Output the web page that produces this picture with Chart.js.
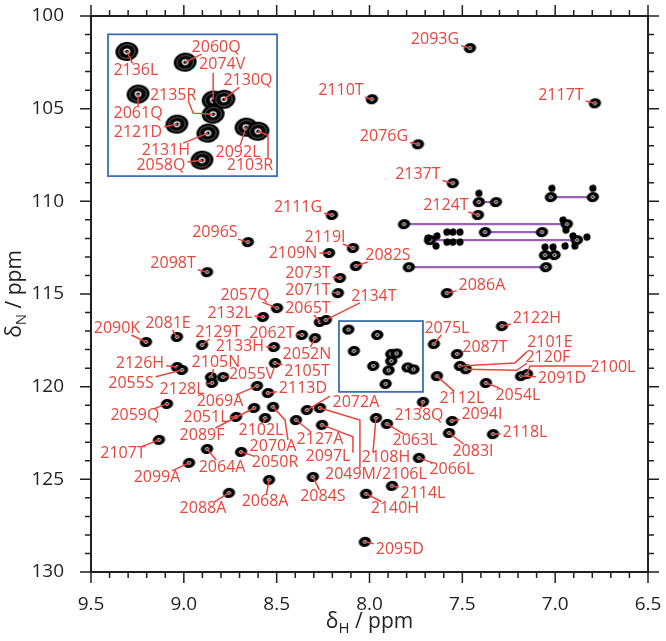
<!DOCTYPE html>
<html>
<head>
<meta charset="utf-8">
<script src="https://cdn.jsdelivr.net/npm/chart.js@4.4.1/dist/chart.umd.min.js"></script>
<style>
  html, body { margin: 0; padding: 0; background: #fff; }
  canvas { display: block; }
</style>
</head>
<body>
<canvas id="hsqc" width="666" height="641"></canvas>
<script>
// assigned backbone amide cross peaks (1H / 15N, ppm)
const residues = ['2093G', '2110T', '2117T', '2076G', '2137T', '2124T', '2111G', '2096S', '2119I', '2109N',
  '2082S', '2098T', '2073T', '2071T', '2086A', '2057Q', '2132L', '2065T', '2134T', '2122H',
  '2090K', '2081E', '2129T', '2062T', '2052N', '2075L', '2133H', '2087T', '2105T', '2126H',
  '2055S', '2101E', '2120F', '2105N', '2055V', '2128L', '2091D', '2100L', '2112L', '2054L',
  '2069A', '2113D', '2059Q', '2138Q', '2070A', '2089F', '2072A', '2049M/2106L', '2127A', '2097L',
  '2108H', '2063L', '2094I', '2083I', '2118L', '2051L', '2102L', '2107T', '2064A', '2050R',
  '2066L', '2099A', '2084S', '2068A', '2114L', '2088A', '2140H', '2095D']
const shiftH = [7.459, 7.987, 6.786, 7.739, 7.551, 7.416, 8.202, 8.655, 8.089, 8.218,
  8.073, 8.875, 8.159, 8.170, 7.583, 8.498, 8.574, 8.267, 8.235, 7.287,
  9.204, 9.037, 8.902, 8.364, 8.294, 7.653, 8.515, 7.529, 8.509, 9.037,
  9.010, 7.513, 7.481, 8.854, 8.789, 8.848, 7.184, 7.152, 7.637, 7.373,
  8.606, 8.547, 9.091, 7.712, 8.520, 8.622, 8.337, 8.267, 8.396, 8.256,
  7.965, 7.906, 7.556, 7.572, 7.335, 8.719, 8.563, 9.134, 8.875, 8.692,
  7.734, 8.972, 8.305, 8.541, 7.879, 8.757, 8.019, 8.025]
const shiftN = [101.73, 104.49, 104.71, 106.92, 109.02, 110.74, 110.74, 112.20, 112.52, 112.79,
  113.49, 113.82, 114.14, 114.95, 114.95, 115.76, 116.24, 116.51, 116.40, 116.73,
  117.59, 117.32, 117.75, 117.21, 117.38, 117.70, 117.86, 118.24, 118.72, 118.94,
  119.10, 118.88, 119.06, 119.48, 119.48, 119.80, 119.43, 119.32, 119.43, 119.80,
  119.96, 120.34, 120.93, 120.82, 121.09, 121.15, 121.26, 121.15, 121.80, 122.06,
  121.69, 122.01, 121.85, 122.50, 122.56, 121.63, 121.69, 122.87, 123.36, 123.52,
  123.84, 124.11, 124.87, 125.03, 125.35, 125.73, 125.78, 128.37]

// crowded region shown enlarged in the inset
const insetResidues = ['2136L', '2060Q', '2061Q', '2074V', '2130Q', '2135R', '2121D', '2131H', '2092L', '2103R', '2058Q']
const insetH = [8.114, 7.958, 8.084, 7.883, 7.854, 7.883, 7.980, 7.897, 7.795, 7.763, 7.913]
const insetN = [116.92, 117.21, 118.07, 118.23, 118.21, 118.61, 118.88, 119.12, 118.96, 119.07, 119.85]

// side chain NH2 pairs
const nh2H1 = [7.411, 7.023, 7.814, 7.378, 7.674, 7.055, 7.788]
const nh2H2 = [7.319, 6.797, 6.937, 7.071, 6.883, 7.003, 7.050]
const nh2N = [110.04, 109.77, 111.23, 111.66, 112.09, 112.90, 113.55]

// unassigned side chain peaks
const extraH = [7.411, 7.018, 6.797, 7.685, 7.637, 7.583, 7.583, 7.551, 7.551, 7.513, 7.513, 7.642,
  6.958, 6.942, 6.904, 6.829, 6.947, 6.894, 7.055, 7.012]
const extraN = [109.57, 109.30, 109.30, 111.98, 111.87, 111.66, 112.20, 111.66, 112.20, 111.66, 112.20, 112.41,
  111.01, 111.55, 111.87, 111.93, 112.41, 112.41, 112.47, 112.47]

const xTicks = [9.5, 9.0, 8.5, 8.0, 7.5, 7.0, 6.5]
const yTicks = [100, 105, 110, 115, 120, 125, 130]

// label placement, pixels from the peak
const labelOffset = [[-35, -9], [-31, -9], [-34, -8], [-34, -8], [-35, -9], [-32, -10], [-34, -8], [-33, -10], [-28, -11], [-36, 0],
  [32, -11], [-34, -9], [-32, -5], [-30, -3], [35, -8], [-32, -13], [-33, -4], [-12, -14], [48, -24], [35, -8],
  [-29, -14], [-9, -14], [16, -13], [-30, -2], [-8, 16], [13, -16], [-34, -1], [28, -7], [32, 8], [-37, -4],
  [-51, 13], [90, -23], [82, -12], [5, -15], [29, -3], [-30, 6], [41, 2], [86, -7], [25, 22], [32, 12],
  [-37, 16], [35, -5], [-32, 12], [-4, 14], [0, 40], [-52, 27], [49, -8], [56, 66], [24, 19], [6, 32],
  [10, 39], [28, 17], [30, -7], [24, 18], [32, -2], [-30, 1], [-4, 12], [-36, 14], [15, 18], [34, 11],
  [33, 12], [-32, 15], [10, 20], [-4, 22], [31, 8], [-26, 16], [29, 15], [35, 8]]
const leaderPath = {
  '2101E': [[55, -3], [67, -14]],
  '2120F': [[51, 1], [61, -6]],
  '2100L': [[3, -8], [65, -8]],
  '2070A': [[12, 13], [15, 33]],
  '2072A': [[23, -14]],
  '2049M/2106L': [[40, 12], [40, 60]],
  '2097L': [[31, 12], [31, 28]],
  '2108H': [[-3, 34]]
}
const insetOffset = [[9, 19], [31, -15], [0, 19], [9, -36], [24, -19], [-40, -19], [-39, 8], [-42, 17], [-8, 25], [-8, 34], [-41, 5]]
const insetPath = {
  '2074V': [[0, -27]],
  '2135R': [[-20, -1], [-25, -14]],
  '2103R': [[10, 4], [10, 27]]
}

// zoomed window and where the inset sits, in ppm
const zoomWindow = { h: [8.1645, 7.712], n: [116.46, 120.28] }
const insetFrame = { h: [9.4085, 8.498], n: [100.99, 108.64] }

const RED = '#e8453c'
const BLUE = '#3d6db3'
const PURPLE = '#9b62b8'
const INK = '#231f20'
const FONT = '"Open Sans", "DejaVu Sans", sans-serif'

const mapRange = (v, from, to) => to[0] + (v - from[0]) * (to[1] - to[0]) / (from[1] - from[0])

const peakSprite = (rx, ry, rings) => {
  const c = document.createElement('canvas')
  c.width = Math.ceil(rx * 2 + 2)
  c.height = Math.ceil(ry * 2 + 2)
  const g = c.getContext('2d')
  const cx = c.width / 2, cy = c.height / 2
  g.fillStyle = '#000'
  g.beginPath()
  g.ellipse(cx, cy, rx, ry, -0.15, 0, Math.PI * 2)
  g.fill()
  rings.forEach(([f, w]) => {
    g.strokeStyle = '#fff'
    g.lineWidth = w
    g.beginPath()
    g.ellipse(cx, cy, Math.max(rx * f, 1), Math.max(ry * f, 1), -0.15, 0, Math.PI * 2)
    g.stroke()
  })
  return c
}

const smallPeak = peakSprite(6.2, 5, [[0.28, 1]])
const bigPeak = peakSprite(11.5, 9.5, [[0.24, 1.3], [0.72, 0.4]])
const tinyPeak = peakSprite(3.6, 3.6, [])

const pts = (hs, ns) => hs.map((h, i) => ({ x: h, y: ns[i] }))

const peakSet = (data, sprite, xAxisID = 'x', yAxisID = 'y') => ({
  data, xAxisID, yAxisID,
  pointStyle: sprite, pointRadius: 5, showLine: false,
})

const datasets = [
  peakSet(pts(shiftH, shiftN), smallPeak),
  peakSet(pts(insetH, insetN), smallPeak),
  peakSet(pts(insetH, insetN), bigPeak, 'x2', 'y2'),
  peakSet(pts(extraH, extraN), tinyPeak),
  ...nh2N.map((n, i) => ({
    data: [{ x: nh2H1[i], y: n }, { x: nh2H2[i], y: n }],
    showLine: true, borderColor: PURPLE, borderWidth: 2.2,
    pointStyle: smallPeak, pointRadius: 5,
  })),
]

const drawCallout = (ctx, text, px, py, off, path) => {
  const cx = px + off[0], cy = py + off[1]
  ctx.fillText(text, cx, cy)
  ctx.beginPath()
  ctx.moveTo(px, py)
  if (path) {
    path.forEach(p => ctx.lineTo(px + p[0], py + p[1]))
  } else {
    const hw = ctx.measureText(text).width / 2 + 2, hh = 7
    const dx = px - cx, dy = py - cy
    const t = Math.min(dx ? hw / Math.abs(dx) : Infinity, dy ? hh / Math.abs(dy) : Infinity)
    if (t >= 1) return
    ctx.lineTo(cx + dx * t, cy + dy * t)
  }
  ctx.stroke()
}

const drawSubTitle = (ctx, sub) => {
  const parts = [['δ', 21, 0], [sub, 15, 5], [' / ppm', 21, 0]]
  const widths = parts.map(([t, s]) => { ctx.font = `${s}px ${FONT}`; return ctx.measureText(t).width })
  let x = -widths.reduce((a, b) => a + b, 0) / 2
  parts.forEach(([t, s, dy], i) => {
    ctx.font = `${s}px ${FONT}`
    ctx.fillText(t, x, dy)
    x += widths[i]
  })
}

const spectrumDecor = {
  id: 'spectrumDecor',
  beforeDatasetsDraw(chart) {
    const { ctx, scales: { x, y } } = chart
    ctx.save()
    ctx.strokeStyle = BLUE
    ctx.lineWidth = 1.8
    ;[zoomWindow, insetFrame].forEach(b => {
      const l = x.getPixelForValue(b.h[0]), r = x.getPixelForValue(b.h[1])
      const t = y.getPixelForValue(b.n[0]), btm = y.getPixelForValue(b.n[1])
      ctx.strokeRect(l, t, r - l, btm - t)
    })
    ctx.restore()
  },
  afterDatasetsDraw(chart) {
    const { ctx, chartArea: a, scales: { x, y, x2, y2 } } = chart
    ctx.save()
    // frame and ticks
    ctx.strokeStyle = INK
    ctx.lineWidth = 2
    ctx.strokeRect(a.left, a.top, a.right - a.left, a.bottom - a.top)
    ctx.lineWidth = 1.5
    ctx.beginPath()
    for (let i = 0; i <= 30; i++) {
      const px = x.getPixelForValue(6.5 + i * 0.1)
      const len = i % 5 === 0 ? 11 : 6
      ctx.moveTo(px, a.bottom); ctx.lineTo(px, a.bottom + len)
      ctx.moveTo(px, a.top); ctx.lineTo(px, a.top - len)
    }
    for (let i = 0; i <= 30; i++) {
      const py = y.getPixelForValue(100 + i)
      const len = i % 5 === 0 ? 11 : 6
      ctx.moveTo(a.left, py); ctx.lineTo(a.left - len, py)
      ctx.moveTo(a.right, py); ctx.lineTo(a.right + len, py)
    }
    ctx.stroke()

    // axis titles
    ctx.fillStyle = INK
    ctx.textAlign = 'left'
    ctx.textBaseline = 'alphabetic'
    ctx.save()
    ctx.translate((a.left + a.right) / 2, 628)
    drawSubTitle(ctx, 'H')
    ctx.restore()
    ctx.save()
    ctx.translate(21, (a.top + a.bottom) / 2)
    ctx.rotate(-Math.PI / 2)
    drawSubTitle(ctx, 'N')
    ctx.restore()

    // peak labels
    ctx.font = `16px ${FONT}`
    ctx.fillStyle = RED
    ctx.strokeStyle = RED
    ctx.lineWidth = 1.5
    ctx.textAlign = 'center'
    ctx.textBaseline = 'middle'
    residues.forEach((r, i) => {
      drawCallout(ctx, r, x.getPixelForValue(shiftH[i]), y.getPixelForValue(shiftN[i]), labelOffset[i], leaderPath[r])
    })
    insetResidues.forEach((r, i) => {
      drawCallout(ctx, r, x2.getPixelForValue(insetH[i]), y2.getPixelForValue(insetN[i]), insetOffset[i], insetPath[r])
    })
    ctx.restore()
  },
}

const tickFont = { family: FONT, size: 19 }

new Chart(document.getElementById('hsqc'), {
  type: 'scatter',
  data: { datasets },
  options: {
    responsive: false,
    animation: false,
    devicePixelRatio: 1,
    layout: { padding: { top: 16, right: 18, left: 0, bottom: 0 } },
    plugins: { legend: { display: false }, tooltip: { enabled: false } },
    scales: {
      x: {
        type: 'linear', min: 6.5, max: 9.5, reverse: true, position: 'bottom',
        grid: { display: false }, border: { display: false },
        afterBuildTicks: s => { s.ticks = xTicks.map(v => ({ value: v })) },
        ticks: { padding: 13, color: INK, font: tickFont, maxRotation: 0, autoSkip: false, callback: v => v.toFixed(1) },
        afterFit: s => { s.height = 69; s.paddingLeft = 0; s.paddingRight = 0 },
      },
      y: {
        type: 'linear', min: 100, max: 130, reverse: true, position: 'left',
        grid: { display: false }, border: { display: false },
        afterBuildTicks: s => { s.ticks = yTicks.map(v => ({ value: v })) },
        ticks: { padding: 19, color: INK, font: tickFont, autoSkip: false },
        afterFit: s => { s.width = 91; s.paddingTop = 0; s.paddingBottom = 0 },
      },
      x2: {
        type: 'linear', axis: 'x', display: false, reverse: true,
        min: mapRange(6.5, insetFrame.h, zoomWindow.h),
        max: mapRange(9.5, insetFrame.h, zoomWindow.h),
      },
      y2: {
        type: 'linear', axis: 'y', display: false, reverse: true,
        min: mapRange(100, insetFrame.n, zoomWindow.n),
        max: mapRange(130, insetFrame.n, zoomWindow.n),
      },
    },
  },
  plugins: [spectrumDecor],
})
</script>
</body>
</html>
